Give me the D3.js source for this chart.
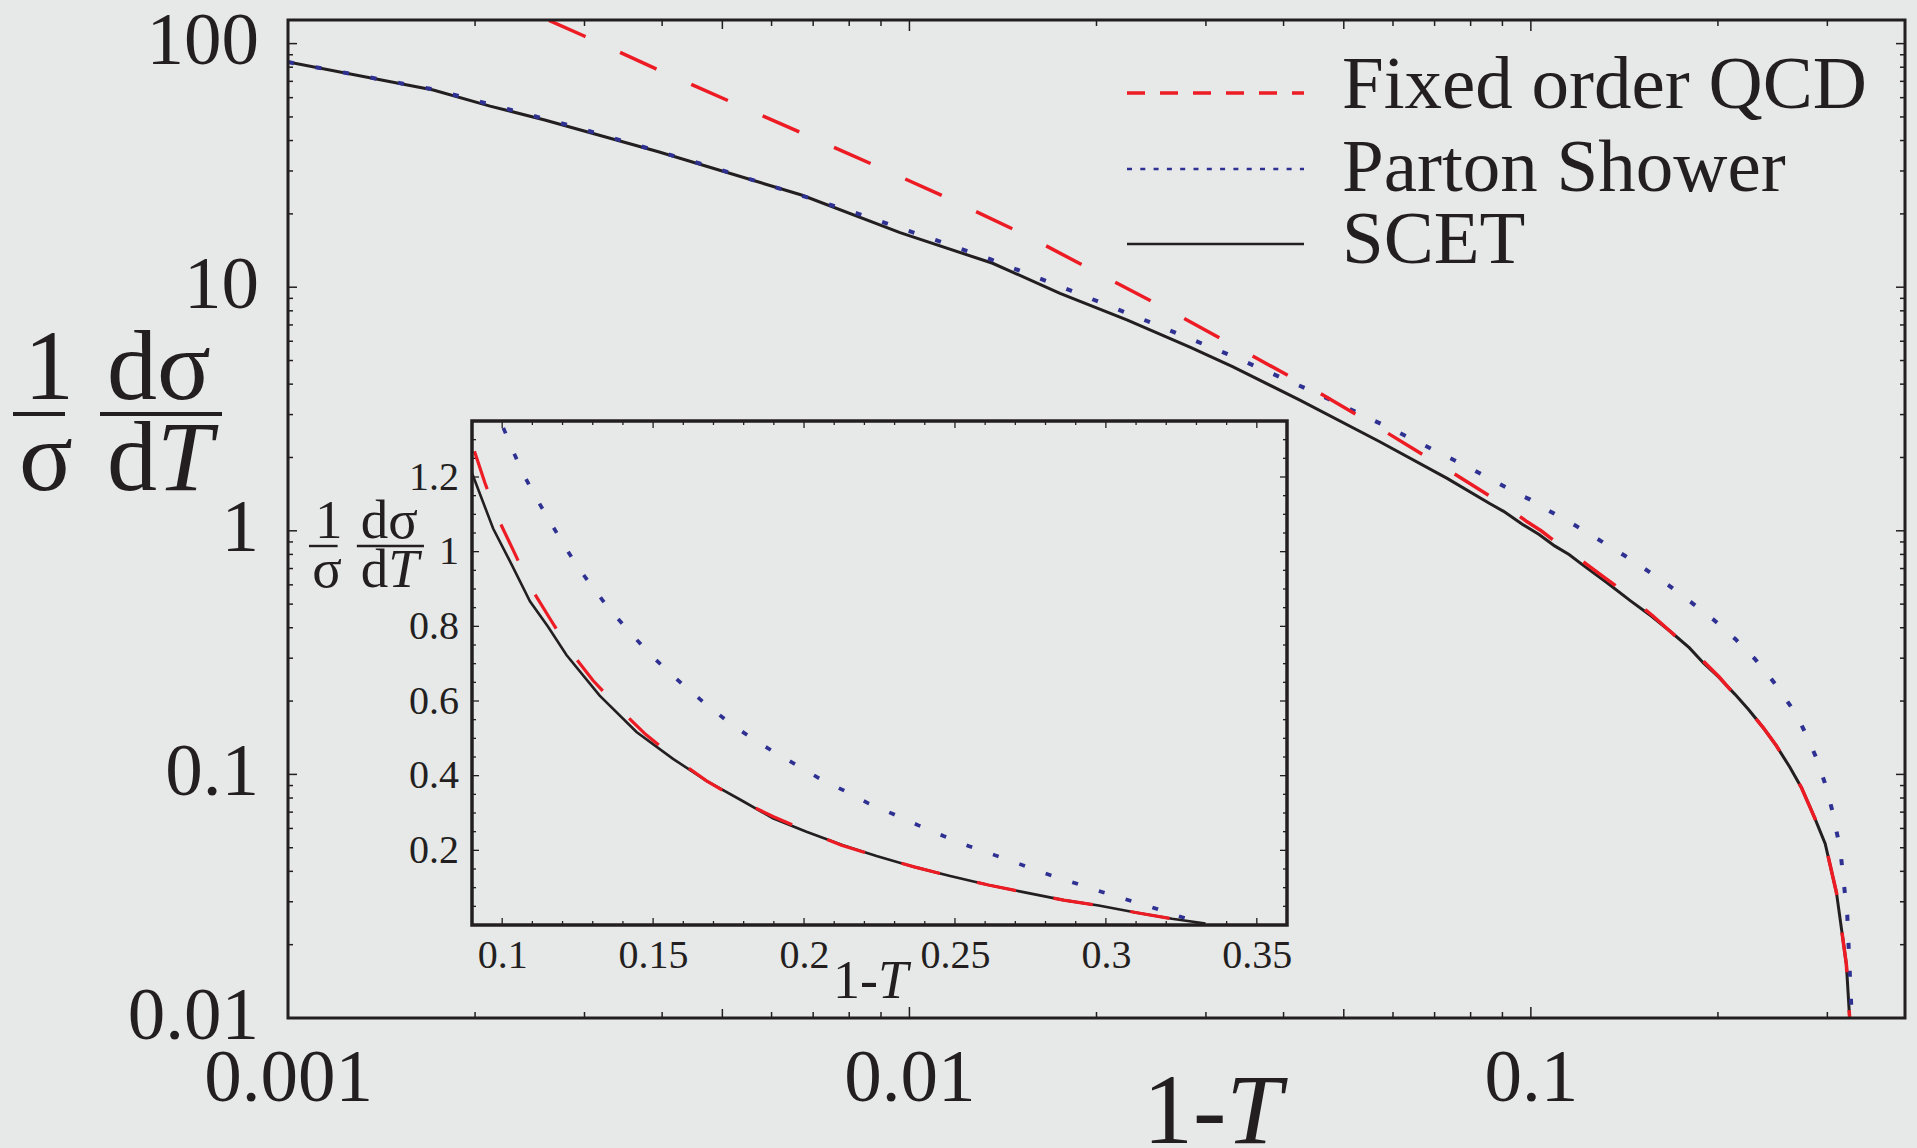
<!DOCTYPE html>
<html>
<head>
<meta charset="utf-8">
<script src="https://cdn.jsdelivr.net/npm/d3@7"></script>
<style>
  body { margin: 0; background: #e7e8e8; }
  svg { display: block; font-family: "Liberation Serif", "Times New Roman", serif; }
</style>
</head>
<body>
<svg id="chart" width="1917" height="1148"></svg>
<script>
// SCET (solid black)
const scetX = [0.001, 0.001713, 0.002114, 0.002589, 0.003945, 0.006704, 0.009658, 0.01361, 0.01747, 0.02243,
  0.02833, 0.03311, 0.04249, 0.05714, 0.07333, 0.0857, 0.0904, 0.097, 0.1031, 0.1092, 0.1152, 0.1213, 0.1323,
  0.1445, 0.1566, 0.1677, 0.1798, 0.1897, 0.2008, 0.2129, 0.224, 0.2368, 0.2484, 0.2611, 0.2727, 0.286, 0.2976,
  0.3103, 0.3219, 0.333];
const scetY = [84, 64.5, 55.4, 48.6, 36.0, 23.9, 16.74, 12.54, 9.44, 7.33,
  5.66, 4.72, 3.44, 2.321, 1.642, 1.297, 1.202, 1.062, 0.966, 0.867, 0.799, 0.723, 0.6145,
  0.517, 0.445, 0.386, 0.3315, 0.286, 0.25, 0.2136, 0.1846, 0.155, 0.131, 0.107, 0.088, 0.0666, 0.052,
  0.0327, 0.0166, 0.004];

// Fixed order QCD (red dashed)
const qcdX = [0.00263, 0.00299, 0.003912, 0.005159, 0.006788, 0.008918, 0.01153, 0.01537, 0.02004, 0.02612,
  0.03404, 0.04418, 0.05714, 0.07391, 0.0904, 0.0943, 0.0985, 0.104, 0.1092, 0.1158, 0.1224, 0.1301, 0.1386,
  0.1476, 0.1572, 0.1677, 0.1781, 0.1897, 0.2008, 0.2124, 0.224, 0.2368, 0.2484, 0.2611, 0.2727, 0.286, 0.2976,
  0.3103, 0.3219, 0.333];
const qcdY = [124.5, 107.7, 78.7, 57.7, 42.4, 31.15, 23.2, 16.38, 11.47, 8.06,
  5.57, 3.868, 2.634, 1.765, 1.279, 1.184, 1.091, 0.998, 0.9075, 0.821, 0.735, 0.655, 0.581,
  0.51, 0.447, 0.386, 0.336, 0.2907, 0.2517, 0.2136, 0.1846, 0.155, 0.131, 0.107, 0.088, 0.0666, 0.052,
  0.0327, 0.0166, 0.004];

// Parton Shower (blue dotted)
const showerX = [0.001, 0.001713, 0.002888, 0.004848, 0.008084, 0.011009, 0.01346, 0.01824, 0.02462, 0.03327,
  0.04487, 0.05988, 0.07991, 0.09666, 0.0998, 0.1031, 0.1067, 0.1111, 0.1156, 0.1202, 0.1248, 0.1301, 0.1357,
  0.1417, 0.1478, 0.1542, 0.1608, 0.1677, 0.1748, 0.182, 0.1897, 0.1975, 0.2052, 0.2135, 0.2215, 0.2297, 0.2379,
  0.2462, 0.2545, 0.2634, 0.2717, 0.2799, 0.2888, 0.2971, 0.3059, 0.3148, 0.323, 0.3313];
const showerY = [84, 64.9, 45.6, 30.95, 20.4, 15.63, 13.06, 9.65, 7.11, 5.185,
  3.7, 2.61, 1.806, 1.394, 1.343, 1.279, 1.213, 1.146, 1.084, 1.021, 0.962, 0.903, 0.844,
  0.79, 0.735, 0.685, 0.637, 0.59, 0.5447, 0.504, 0.465, 0.4286, 0.392, 0.359, 0.325, 0.2966, 0.267,
  0.2383, 0.2115, 0.1865, 0.1624, 0.1382, 0.1149, 0.0926, 0.0703, 0.0488, 0.0263, 0.006];

const mainXTicks = [0.001, 0.01, 0.1];
const mainXLabels = ["0.001", "0.01", "0.1"];
const mainYTicks = [0.01, 0.1, 1, 10, 100];
const mainYLabels = ["0.01", "0.1", "1", "10", "100"];
const insetXTicks = [0.1, 0.15, 0.2, 0.25, 0.3, 0.35];
const insetXLabels = ["0.1", "0.15", "0.2", "0.25", "0.3", "0.35"];
const insetYTicks = [0.2, 0.4, 0.6, 0.8, 1, 1.2];
const insetYLabels = ["0.2", "0.4", "0.6", "0.8", "1", "1.2"];
const legendNames = ["Fixed order QCD", "Parton Shower", "SCET"];

const INK = "#231f20", RED = "#ed1c24", BLUE = "#2e3192", BG = "#e7e8e8";

const svg = d3.select("#chart");
svg.append("rect").attr("width", 1917).attr("height", 1148).attr("fill", BG);

const zip = (xs, ys) => xs.map((v, i) => [v, ys[i]]);
const series = [
  { pts: zip(scetX, scetY), color: INK, dash: null, w: 3 },
  { pts: zip(showerX, showerY), color: BLUE, dash: "6 22", w: 4 },
  { pts: zip(qcdX, qcdY), color: RED, dash: "40 38", w: 3.5 }
];

// ---- main plot ----
const L = 288, R = 1905, T = 20, B = 1018;
const x = d3.scaleLog().domain([0.001, 0.4]).range([L, R]);
const y = d3.scaleLog().domain([0.01, 125]).range([B, T]);

svg.append("clipPath").attr("id", "clipMain")
  .append("rect").attr("x", L).attr("y", T).attr("width", R - L).attr("height", B - T);

const mant = v => Math.round(v / Math.pow(10, Math.floor(Math.log10(v) + 1e-9)));

function ticks(g, scale, vals, side, a, b, lenFn, w) {
  vals.forEach(v => {
    const p = scale(v), len = lenFn(v);
    g.append("line")
      .attr("x1", side === "h" ? p : a).attr("x2", side === "h" ? p : a + len)
      .attr("y1", side === "h" ? a : p).attr("y2", side === "h" ? a + len : p)
      .attr("stroke", INK).attr("stroke-width", w);
    g.append("line")
      .attr("x1", side === "h" ? p : b).attr("x2", side === "h" ? p : b - len)
      .attr("y1", side === "h" ? b : p).attr("y2", side === "h" ? b - len : p)
      .attr("stroke", INK).attr("stroke-width", w);
  });
}

const mainTicks = svg.append("g");
ticks(mainTicks, x, x.ticks(), "h", T, B, v => mant(v) === 1 ? 11 : mant(v) === 5 ? 9 : 6, 1.5);
ticks(mainTicks, y, y.ticks(), "v", L, R, v => mant(v) === 1 ? 9 : 5, 1.5);

const mainLines = svg.append("g").attr("clip-path", "url(#clipMain)");
const mainLine = d3.line().x(d => x(d[0])).y(d => y(d[1]));
series.forEach(s => {
  mainLines.append("path").attr("d", mainLine(s.pts))
    .attr("fill", "none").attr("stroke", s.color).attr("stroke-width", s.w)
    .attr("stroke-dasharray", s.dash);
});

svg.append("rect").attr("x", L).attr("y", T).attr("width", R - L).attr("height", B - T)
  .attr("fill", "none").attr("stroke", INK).attr("stroke-width", 3);

// tick labels
const xAxis = svg.append("g").attr("transform", `translate(0,${B})`)
  .call(d3.axisBottom(x).tickValues(mainXTicks).tickSize(0).tickFormat((d, i) => mainXLabels[i]));
xAxis.select(".domain").remove();
xAxis.selectAll("text").attr("y", 83).attr("dy", null)
  .attr("font-size", 75).attr("font-family", "Liberation Serif").attr("fill", INK);

const yAxis = svg.append("g").attr("transform", `translate(${L},0)`)
  .call(d3.axisLeft(y).tickValues(mainYTicks).tickSize(0).tickFormat((d, i) => mainYLabels[i]));
yAxis.select(".domain").remove();
yAxis.selectAll("text").attr("x", -29).attr("dy", 20)
  .attr("font-size", 75).attr("font-family", "Liberation Serif").attr("fill", INK);

// axis titles
const xt = svg.append("text").attr("x", 1143).attr("y", 1143).attr("font-size", 100).attr("fill", INK);
xt.append("tspan").text("1-");
xt.append("tspan").attr("font-style", "italic").text("T");

function fraction(g, size, x0, numY, barY, denY, barW) {
  const t = (tx, ty, str, anchor) => g.append("text").attr("x", tx).attr("y", ty)
    .attr("font-size", size).attr("fill", INK).attr("text-anchor", anchor).text(str);
  const k = size / 100;
  t(x0 + 36 * k, numY, "1", "middle");
  t(x0 + 33 * k, denY, "σ", "middle");
  g.append("line").attr("x1", x0).attr("x2", x0 + 52 * k).attr("y1", barY).attr("y2", barY)
    .attr("stroke", INK).attr("stroke-width", barW);
  t(x0 + 94 * k, numY, "dσ", "start");
  const dT = t(x0 + 94 * k, denY, "d", "start");
  dT.append("tspan").attr("font-style", "italic").text("T");
  g.append("line").attr("x1", x0 + 87 * k).attr("x2", x0 + 209 * k).attr("y1", barY).attr("y2", barY)
    .attr("stroke", INK).attr("stroke-width", barW);
}
fraction(svg.append("g"), 100, 13, 399, 414, 490, 4);

// legend
const legY = [93, 169, 244];
const legBase = [108, 191, 263];
const legStyle = [
  { color: RED, dash: "18 15", w: 3.3 },
  { color: BLUE, dash: "5 8.3", w: 2.7 },
  { color: INK, dash: null, w: 2.7 }
];
legendNames.forEach((name, i) => {
  svg.append("line").attr("x1", 1127).attr("x2", 1304).attr("y1", legY[i]).attr("y2", legY[i])
    .attr("stroke", legStyle[i].color).attr("stroke-width", legStyle[i].w)
    .attr("stroke-dasharray", legStyle[i].dash);
  svg.append("text").attr("x", 1342).attr("y", legBase[i]).attr("font-size", 75)
    .attr("fill", INK).text(name);
});

// ---- inset ----
const iL = 472, iR = 1287, iT = 421, iB = 925;
const xi = d3.scaleLinear().domain([0.09, 0.36]).range([iL, iR]);
const yi = d3.scaleLinear().domain([0, 1.35]).range([iB, iT]);

svg.append("rect").attr("x", iL).attr("y", iT).attr("width", iR - iL).attr("height", iB - iT).attr("fill", BG);
svg.append("clipPath").attr("id", "clipInset")
  .append("rect").attr("x", iL).attr("y", iT).attr("width", iR - iL).attr("height", iB - iT);

const insetTicks = svg.append("g");
const near = (v, arr) => arr.some(a => Math.abs(a - v) < 1e-6);
ticks(insetTicks, xi, d3.range(10, 36).map(k => k / 100), "h", iT, iB,
  v => near(v, insetXTicks) ? 7 : 4, 1.3);
ticks(insetTicks, yi, d3.range(1, 27).map(k => k * 0.05), "v", iL, iR,
  v => near(v, insetYTicks) ? 7 : 4, 1.3);

const insetLines = svg.append("g").attr("clip-path", "url(#clipInset)");
const insetLine = d3.line().x(d => xi(d[0])).y(d => yi(d[1]));
series.forEach(s => {
  insetLines.append("path").attr("d", insetLine(s.pts))
    .attr("fill", "none").attr("stroke", s.color).attr("stroke-width", s.w === 3 ? 2.6 : s.w - 0.3)
    .attr("stroke-dasharray", s.dash);
});

svg.append("rect").attr("x", iL).attr("y", iT).attr("width", iR - iL).attr("height", iB - iT)
  .attr("fill", "none").attr("stroke", INK).attr("stroke-width", 3.5);

const xiAxis = svg.append("g").attr("transform", `translate(0,${iB})`)
  .call(d3.axisBottom(xi).tickValues(insetXTicks).tickSize(0).tickFormat((d, i) => insetXLabels[i]));
xiAxis.select(".domain").remove();
xiAxis.selectAll("text").attr("y", 43).attr("dy", null)
  .attr("font-size", 40).attr("font-family", "Liberation Serif").attr("fill", INK);

const yiAxis = svg.append("g").attr("transform", `translate(${iL},0)`)
  .call(d3.axisLeft(yi).tickValues(insetYTicks).tickSize(0).tickFormat((d, i) => insetYLabels[i]));
yiAxis.select(".domain").remove();
yiAxis.selectAll("text").attr("x", -13).attr("dy", 12)
  .attr("font-size", 40).attr("font-family", "Liberation Serif").attr("fill", INK);

const ixt = svg.append("text").attr("x", 833).attr("y", 998).attr("font-size", 54).attr("fill", INK);
ixt.append("tspan").text("1-");
ixt.append("tspan").attr("font-style", "italic").text("T");

fraction(svg.append("g"), 55, 309, 538, 546, 587, 2.4);
</script>
</body>
</html>
